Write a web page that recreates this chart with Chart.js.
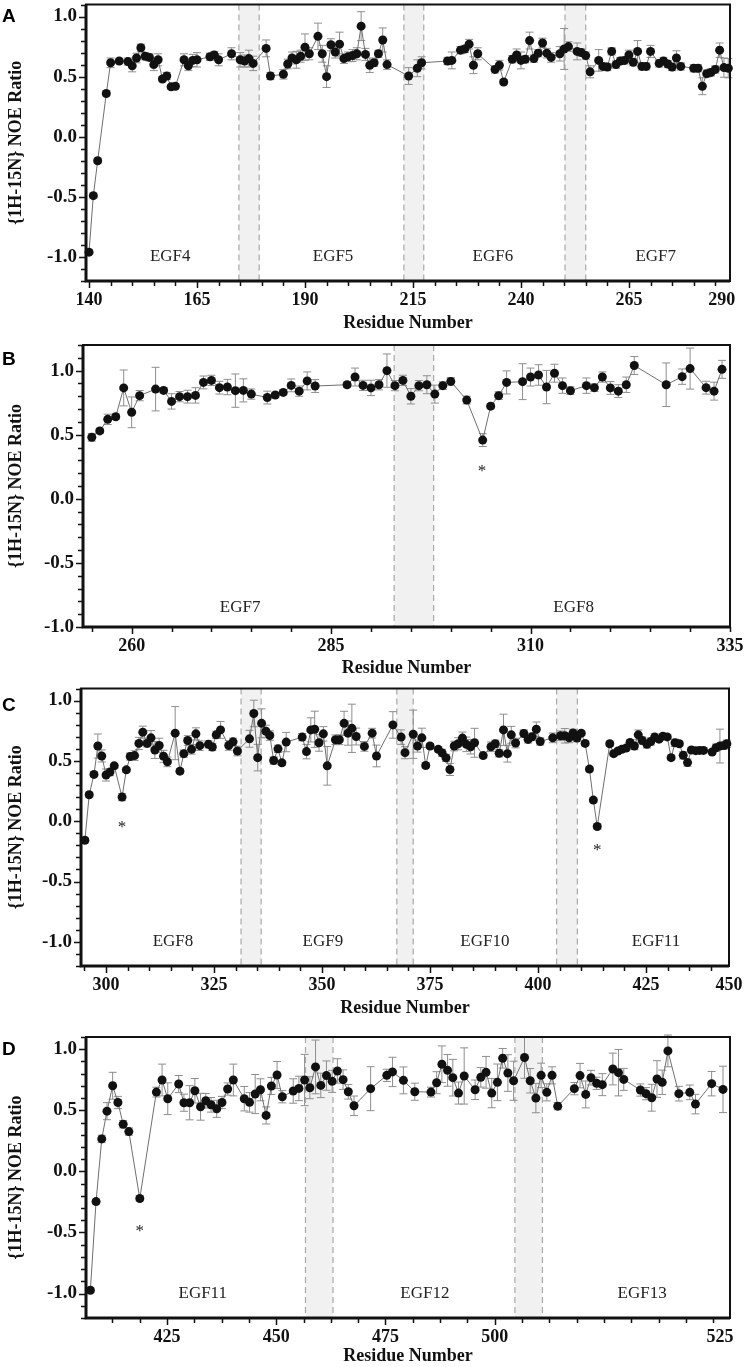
<!DOCTYPE html>
<html>
<head>
<meta charset="utf-8">
<title>{1H-15N} NOE Ratio</title>
<script src="https://cdn.jsdelivr.net/npm/chart.js@4.4.0/dist/chart.umd.min.js"></script>
<style>
  body { margin: 0; background: #fff; }
  #page { position: relative; width: 744px; height: 1367px; }
  canvas { position: absolute; left: 0; }
</style>
</head>
<body>
<div id="page">
  <canvas id="panelA" width="744" height="340" style="top:0px"></canvas>
  <canvas id="panelB" width="744" height="344" style="top:340px"></canvas>
  <canvas id="panelC" width="744" height="340" style="top:684px"></canvas>
  <canvas id="panelD" width="744" height="343" style="top:1024px"></canvas>
</div>
<script>
// ---- panel A: EGF4-EGF7 ----
const residuesA = [
  140,141,142,144,145,147,149,150,151,152,
  153,154,155,156,157,158,159,160,162,163,
  164,165,168,169,170,173,175,176,177,178,
  181,182,185,186,187,188,189,190,191,193,
  194,195,196,197,198,199,200,201,202,203,
  204,205,206,207,208,209,214,216,217,223,
  224,226,227,228,229,230,234,235,236,238,
  239,240,241,242,243,244,245,246,247,249,
  250,251,253,254,255,256,258,259,260,261,
  262,263,264,265,266,267,268,269,270,272,
  273,274,275,276,277,280,281,282,283,284,
  285,286,287,288];
const noeA = [
  -0.96,-0.49,-0.20,0.36,0.615,0.63,0.625,0.59,0.655,0.74,
  0.67,0.66,0.60,0.64,0.48,0.505,0.415,0.42,0.64,0.59,
  0.635,0.64,0.665,0.68,0.64,0.69,0.64,0.63,0.65,0.61,
  0.735,0.505,0.52,0.605,0.655,0.64,0.67,0.745,0.69,0.835,
  0.69,0.50,0.765,0.705,0.77,0.65,0.665,0.675,0.69,0.92,
  0.685,0.595,0.615,0.69,0.805,0.60,0.505,0.57,0.615,0.63,
  0.635,0.72,0.73,0.77,0.595,0.69,0.56,0.595,0.455,0.645,
  0.68,0.635,0.645,0.80,0.65,0.695,0.78,0.695,0.66,0.69,
  0.73,0.75,0.71,0.70,0.675,0.54,0.635,0.585,0.58,0.71,
  0.60,0.63,0.635,0.68,0.62,0.71,0.585,0.585,0.71,0.61,
  0.63,0.605,0.58,0.655,0.585,0.57,0.57,0.42,0.525,0.535,
  0.56,0.72,0.575,0.57];
const errA = [
  0.02,0.02,0.02,0.02,0.04,0.02,0.03,0.05,0.04,0.03,
  0.03,0.03,0.05,0.05,0.02,0.03,0.02,0.02,0.05,0.04,
  0.05,0.06,0.03,0.03,0.05,0.05,0.06,0.05,0.07,0.06,
  0.07,0.03,0.04,0.04,0.05,0.07,0.05,0.11,0.05,0.11,
  0.07,0.09,0.05,0.05,0.10,0.04,0.04,0.05,0.05,0.12,
  0.05,0.06,0.03,0.03,0.10,0.04,0.07,0.07,0.05,0.03,
  0.07,0.03,0.03,0.04,0.07,0.05,0.03,0.04,0.02,0.03,
  0.05,0.07,0.03,0.07,0.03,0.03,0.04,0.04,0.04,0.06,
  0.17,0.04,0.07,0.03,0.03,0.05,0.09,0.03,0.03,0.03,
  0.03,0.03,0.03,0.04,0.03,0.09,0.03,0.03,0.05,0.03,
  0.03,0.03,0.03,0.06,0.03,0.03,0.03,0.07,0.03,0.03,
  0.03,0.06,0.08,0.08];
const xTicksA = [140,165,190,215,240,265,290];
const domainsA = ['EGF4','EGF5','EGF6','EGF7'];

// ---- panel B: EGF7-EGF8 ----
const residuesB = [
  255,256,257,258,259,260,261,
  263,264,265,266,267,268,269,270,271,272,273,274,275,
  277,278,279,280,281,282,283,
  287,288,289,290,291,292,293,294,295,296,297,298,299,300,
  302,304,305,306,307,
  309,310,311,312,313,314,315,
  317,318,319,320,321,322,323,
  327,329,330,332,333,334];
const noeB = [
  0.48,0.53,0.62,0.64,0.865,0.675,0.805,
  0.856,0.846,0.76,0.797,0.797,0.807,0.908,0.924,0.867,0.872,0.844,0.846,0.817,
  0.79,0.81,0.83,0.885,0.84,0.92,0.88,
  0.89,0.95,0.885,0.865,0.89,1.0,0.883,0.924,0.80,0.883,0.89,0.817,0.883,0.916,
  0.77,0.458,0.723,0.805,0.908,
  0.914,0.95,0.966,0.872,0.98,0.883,0.844,
  0.883,0.867,0.95,0.865,0.84,0.89,1.04,
  0.89,0.953,1.016,0.867,0.84,1.01];
const errB = [
  0.03,0.02,0.04,0.02,0.14,0.12,0.04,
  0.17,0.02,0.06,0.04,0.05,0.06,0.05,0.04,0.05,0.06,0.13,0.09,0.04,
  0.05,0.02,0.02,0.05,0.04,0.07,0.05,
  0.02,0.07,0.04,0.06,0.04,0.13,0.04,0.04,0.06,0.04,0.07,0.07,0.03,0.03,
  0.03,0.05,0.02,0.03,0.09,
  0.14,0.07,0.08,0.13,0.07,0.06,0.03,
  0.06,0.03,0.04,0.05,0.05,0.06,0.07,
  0.17,0.06,0.16,0.05,0.07,0.07];
const xTicksB = [260,285,310,335];
const domainsB = ['EGF7','EGF8'];

// ---- panel C: EGF8-EGF11 ----
const residuesC = [
  295.1,296.1,297.2,298.1,299.0,300.0,300.9,301.9,303.7,304.7,
  305.6,306.6,307.6,308.5,309.5,310.4,311.3,312.3,313.3,314.2,
  316.0,317.1,318.0,318.9,319.8,320.8,321.7,323.7,324.6,325.5,
  326.5,328.4,329.4,330.4,333.2,334.2,335.1,336.0,337.0,337.9,
  338.8,339.8,340.7,341.7,345.4,346.4,347.4,348.3,349.3,350.3,
  351.2,353.1,354.0,355.1,356.0,356.9,357.9,359.8,361.6,362.6,
  366.4,368.3,369.2,371.1,372.1,373.1,374.0,375.0,376.9,377.8,
  378.7,379.6,380.6,381.5,382.5,383.4,384.4,385.3,387.3,389.1,
  390.1,391.0,392.0,392.9,393.8,394.8,396.7,397.7,398.6,399.6,
  400.5,403.4,405.2,406.2,407.2,408.1,409.0,410.0,410.9,411.9,
  412.8,413.7,416.6,417.5,418.5,419.4,420.4,421.3,422.3,423.2,
  424.1,425.2,426.1,427.0,428.0,428.9,429.9,430.8,431.7,432.7,
  433.6,434.6,435.5,436.5,437.4,438.3,440.3,441.2,442.1,443.1,
  443.7];
const noeC = [
  -0.158,0.219,0.388,0.623,0.541,0.383,0.407,0.459,0.20,0.426,
  0.536,0.544,0.645,0.738,0.645,0.691,0.59,0.628,0.538,0.492,
  0.73,0.415,0.56,0.669,0.596,0.724,0.626,0.637,0.615,0.716,
  0.757,0.628,0.658,0.582,0.683,0.893,0.527,0.811,0.746,0.71,
  0.503,0.60,0.484,0.656,0.697,0.577,0.757,0.762,0.65,0.724,
  0.459,0.675,0.675,0.811,0.73,0.77,0.702,0.62,0.73,0.541,
  0.798,0.697,0.568,0.721,0.623,0.691,0.462,0.623,0.596,0.566,
  0.525,0.429,0.623,0.642,0.689,0.637,0.617,0.65,0.544,0.617,
  0.642,0.563,0.757,0.56,0.716,0.648,0.727,0.678,0.70,0.762,
  0.661,0.691,0.708,0.708,0.691,0.732,0.689,0.73,0.645,0.432,
  0.175,-0.044,0.642,0.56,0.582,0.596,0.607,0.653,0.623,0.716,
  0.669,0.637,0.661,0.697,0.68,0.705,0.699,0.527,0.65,0.642,
  0.546,0.486,0.59,0.585,0.587,0.587,0.574,0.609,0.623,0.628,
  0.642];
const errC = [
  0.02,0.02,0.02,0.10,0.05,0.05,0.03,0.02,0.03,0.02,
  0.03,0.04,0.05,0.05,0.03,0.06,0.07,0.06,0.05,0.04,
  0.22,0.02,0.03,0.04,0.04,0.05,0.04,0.03,0.03,0.03,
  0.07,0.04,0.03,0.04,0.07,0.11,0.11,0.12,0.05,0.04,
  0.03,0.03,0.02,0.08,0.03,0.06,0.10,0.15,0.07,0.06,
  0.16,0.04,0.04,0.10,0.10,0.20,0.07,0.04,0.04,0.09,
  0.11,0.06,0.05,0.20,0.05,0.08,0.02,0.02,0.02,0.03,
  0.03,0.05,0.04,0.05,0.05,0.06,0.06,0.12,0.02,0.04,
  0.03,0.03,0.13,0.07,0.07,0.04,0.03,0.03,0.03,0.06,
  0.03,0.04,0.04,0.06,0.04,0.03,0.03,0.02,0.02,0.02,
  0.02,0.02,0.02,0.02,0.02,0.02,0.02,0.02,0.03,0.04,
  0.03,0.03,0.03,0.03,0.02,0.02,0.02,0.02,0.03,0.02,
  0.03,0.03,0.02,0.02,0.02,0.02,0.02,0.03,0.14,0.03,
  0.03];
const xTicksC = [300,325,350,375,400,425,450];
const domainsC = ['EGF8','EGF9','EGF10','EGF11'];

// ---- panel D: EGF11-EGF13 ----
const residuesD = [
  407.5,408.8,410.1,411.3,412.6,413.8,415.0,416.3,418.8,422.6,
  423.9,425.2,427.7,428.9,430.2,431.4,432.7,433.9,435.1,436.4,
  437.6,438.9,440.2,442.7,443.9,445.2,446.4,447.7,448.9,450.2,
  451.4,453.9,455.2,456.5,457.7,459.0,460.2,461.5,462.8,464.0,
  465.3,466.5,467.8,471.6,475.3,476.6,479.1,481.7,485.4,486.7,
  487.9,489.2,490.4,491.7,493.0,495.5,496.8,498.0,499.3,500.6,
  501.8,503.0,504.3,506.8,508.1,509.4,510.6,511.9,513.1,514.4,
  518.2,519.5,520.8,522.0,523.3,524.6,527.0,528.3,529.5,533.3,
  534.6,535.9,537.1,538.3,539.6,542.1,544.6,545.9,549.6,552.2];
const noeD = [
  -0.973,-0.247,0.266,0.493,0.701,0.564,0.386,0.326,-0.222,0.649,
  0.748,0.595,0.715,0.562,0.562,0.66,0.529,0.578,0.545,0.512,
  0.564,0.674,0.748,0.595,0.565,0.633,0.668,0.458,0.699,0.789,
  0.611,0.658,0.679,0.748,0.685,0.855,0.704,0.784,0.737,0.822,
  0.751,0.652,0.537,0.677,0.786,0.814,0.745,0.652,0.649,0.726,
  0.877,0.827,0.767,0.641,0.781,0.668,0.77,0.811,0.641,0.729,
  0.926,0.805,0.742,0.932,0.742,0.60,0.786,0.647,0.786,0.534,
  0.677,0.784,0.63,0.767,0.721,0.71,0.838,0.808,0.753,0.666,
  0.636,0.603,0.756,0.729,0.986,0.636,0.647,0.551,0.718,0.671];
const errD = [
  0.02,0.02,0.03,0.07,0.11,0.05,0.03,0.03,0.02,0.04,
  0.13,0.13,0.07,0.07,0.14,0.10,0.11,0.06,0.06,0.07,
  0.05,0.05,0.13,0.10,0.08,0.16,0.09,0.07,0.07,0.11,
  0.05,0.10,0.10,0.21,0.09,0.22,0.10,0.12,0.09,0.10,
  0.08,0.06,0.08,0.18,0.05,0.12,0.11,0.07,0.04,0.09,
  0.15,0.13,0.15,0.09,0.23,0.08,0.08,0.13,0.12,0.15,
  0.08,0.15,0.16,0.17,0.10,0.12,0.10,0.07,0.07,0.03,
  0.05,0.10,0.11,0.06,0.05,0.09,0.13,0.19,0.09,0.05,
  0.05,0.11,0.15,0.10,0.13,0.06,0.06,0.08,0.10,0.19];
const xTicksD = [425,450,475,500,525];
const domainsD = ['EGF11','EGF12','EGF13'];

const yTicks = [-1.0,-0.5,0.0,0.5,1.0];

const serif = '"Liberation Serif", "Times New Roman", serif';

function toPoints(res, val, err) {
  return res.map((r, i) => ({ x: r, y: val[i], e: err[i] }));
}

// draws shaded linker bands, error bars, frame, tick marks and annotations
const panelPlugin = {
  id: 'panel',
  beforeDatasetsDraw(chart, args, o) {
    const { ctx, chartArea: a, scales: { x, y } } = chart;
    ctx.save();
    o.bands.forEach(b => {
      const x0 = x.getPixelForValue(b[0]);
      const x1 = x.getPixelForValue(b[1]);
      ctx.fillStyle = '#f1f1f1';
      ctx.fillRect(x0, a.top, x1 - x0, a.bottom - a.top);
      ctx.strokeStyle = '#a9a9a9';
      ctx.lineWidth = 1.2;
      ctx.setLineDash([6, 4]);
      [x0, x1].forEach(px => {
        ctx.beginPath();
        ctx.moveTo(px, a.top);
        ctx.lineTo(px, a.bottom);
        ctx.stroke();
      });
    });
    ctx.setLineDash([]);
    // error bars go under the line and dots
    ctx.strokeStyle = '#8e8e8e';
    ctx.lineWidth = 1;
    chart.data.datasets[0].data.forEach(p => {
      const px = x.getPixelForValue(p.x);
      const hi = y.getPixelForValue(p.y + p.e);
      const lo = y.getPixelForValue(p.y - p.e);
      ctx.beginPath();
      ctx.moveTo(px, hi); ctx.lineTo(px, lo);
      ctx.moveTo(px - 4, hi); ctx.lineTo(px + 4, hi);
      ctx.moveTo(px - 4, lo); ctx.lineTo(px + 4, lo);
      ctx.stroke();
    });
    ctx.restore();
  },
  afterDraw(chart, args, o) {
    const { ctx, chartArea: a, scales: { x, y } } = chart;
    ctx.save();
    // domain names and asterisks
    ctx.fillStyle = '#222';
    ctx.font = '17px ' + serif;
    ctx.textAlign = 'center';
    ctx.textBaseline = 'middle';
    o.domains.forEach((name, i) => {
      ctx.fillText(name, x.getPixelForValue(o.domainX[i]), y.getPixelForValue(o.domainY));
    });
    ctx.textBaseline = 'alphabetic';
    o.stars.forEach(s => {
      ctx.fillText('*', x.getPixelForValue(s[0]), y.getPixelForValue(s[1]) + 8);
    });

    // tick marks
    ctx.strokeStyle = '#111';
    ctx.lineWidth = 1.5;
    ctx.beginPath();
    for (let k = 0; ; k++) {
      const v = o.minorStart + k * o.minorStep;
      if (v > x.max + 1e-6) break;
      if (v < x.min - 1e-6) continue;
      const major = o.majorX.some(m => Math.abs(m - v) < 1e-6);
      const px = Math.round(x.getPixelForValue(v)) + 0.5;
      ctx.moveTo(px, a.bottom);
      ctx.lineTo(px, a.bottom + (major ? 7 : 5));
    }
    for (let k = Math.ceil(y.min * 10 - 1e-6); k <= Math.floor(y.max * 10 + 1e-6); k++) {
      const major = k % 5 === 0;
      const py = Math.round(y.getPixelForValue(k / 10)) + 0.5;
      ctx.moveTo(a.left, py);
      ctx.lineTo(a.left - (major ? 7 : 5), py);
    }
    ctx.stroke();

    // frame
    ctx.strokeStyle = '#111';
    ctx.lineWidth = 2;
    ctx.strokeRect(a.left, a.top, a.right - a.left, a.bottom - a.top);
    ctx.lineWidth = 3;
    ctx.beginPath();
    ctx.moveTo(a.left, a.top);
    ctx.lineTo(a.left, a.bottom);
    ctx.lineTo(a.right, a.bottom);
    ctx.stroke();

    // panel letter
    ctx.fillStyle = '#000';
    ctx.font = 'bold 19px "Liberation Sans", Arial, sans-serif';
    ctx.textAlign = 'left';
    ctx.fillText(o.letter, 2, o.letterY);
    ctx.restore();
  }
};

function makePanel(id, res, val, err, xLabels, p) {
  const majorX = xLabels.slice(0, -1);
  return new Chart(document.getElementById(id), {
    type: 'scatter',
    data: {
      datasets: [{
        data: toPoints(res, val, err),
        showLine: true,
        borderColor: '#6f6f6f',
        borderWidth: 1,
        pointRadius: 4.5,
        pointHoverRadius: 4.5,
        pointBackgroundColor: '#111',
        pointBorderWidth: 0,
        clip: false
      }]
    },
    options: {
      responsive: false,
      animation: false,
      events: [],
      layout: { padding: { top: p.top, right: p.right, left: 0, bottom: 0 } },
      plugins: {
        legend: { display: false },
        tooltip: { enabled: false },
        panel: {
          letter: p.letter, letterY: p.letterY,
          bands: p.bands,
          domains: p.domains, domainX: p.domainX, domainY: p.domainY,
          stars: p.stars,
          minorStart: p.minorStart, minorStep: p.minorStep,
          majorX: majorX
        }
      },
      scales: {
        x: {
          type: 'linear',
          min: p.xMin,
          max: p.xMax,
          grid: { display: false, drawTicks: false },
          border: { display: false },
          ticks: {
            color: '#111',
            font: { family: serif, size: 18, weight: 'bold' },
            padding: 9,
            autoSkip: false,
            maxRotation: 0,
            minRotation: 0,
            callback: (v, i) => String(xLabels[i])
          },
          afterBuildTicks: s => {
            // the last label sits at the right end of the axis, as in the figure
            s.ticks = xLabels.map((v, i) => ({ value: i === xLabels.length - 1 ? p.lastLabelAt : v }));
          },
          afterFit: s => {
            s.height = p.axisH;
            s.paddingLeft = 0;
            s.paddingRight = 0;
          },
          title: {
            display: true,
            text: 'Residue Number',
            color: '#111',
            font: { family: serif, size: 18, weight: 'bold' },
            padding: { top: 0, bottom: p.titlePad }
          }
        },
        y: {
          type: 'linear',
          min: p.yMin,
          max: p.yMax,
          grid: { display: false, drawTicks: false },
          border: { display: false },
          ticks: {
            color: '#111',
            font: { family: serif, size: 19, weight: 'bold' },
            padding: 9,
            callback: v => v.toFixed(1)
          },
          afterBuildTicks: s => {
            s.ticks = yTicks.map(v => ({ value: v }));
          },
          afterFit: s => {
            s.width = p.left;
            s.paddingTop = 0;
            s.paddingBottom = 0;
          },
          title: {
            display: true,
            text: '{1H-15N} NOE Ratio',
            color: '#111',
            font: { family: serif, size: 18, weight: 'bold' },
            padding: { top: 6, bottom: 0 }
          }
        }
      }
    },
    plugins: [panelPlugin]
  });
}

makePanel('panelA', residuesA, noeA, errA, xTicksA, {
  letter: 'A', letterY: 22, top: 1, right: 14, left: 86, axisH: 59, titlePad: 6,
  xMin: 139.3, xMax: 288.4, lastLabelAt: 286.5,
  yMin: -1.2, yMax: 1.1, minorStart: 140, minorStep: 5,
  bands: [[174.7, 179.4], [212.9, 217.5], [250.2, 255.0]],
  domains: domainsA, domainX: [158.8, 196.5, 233.5, 271.2], domainY: -1.0,
  stars: []
});

makePanel('panelB', residuesB, noeB, errB, xTicksB, {
  letter: 'B', letterY: 25, top: 5, right: 14, left: 83, axisH: 57, titlePad: 5,
  xMin: 253.9, xMax: 335, lastLabelAt: 335,
  yMin: -1.0, yMax: 1.2, minorStart: 255, minorStep: 5,
  bands: [[292.9, 297.85]],
  domains: domainsB, domainX: [273.6, 315.4], domainY: -0.85,
  stars: [[303.9, 0.237]]
});

makePanel('panelC', residuesC, noeC, errC, xTicksC, {
  letter: 'C', letterY: 27, top: 1, right: 15, left: 81, axisH: 58, titlePad: 5,
  xMin: 294.2, xMax: 444.2, lastLabelAt: 444.2,
  yMin: -1.2, yMax: 1.1, minorStart: 295, minorStep: 5,
  bands: [[331.25, 335.9], [367.3, 371.1], [404.3, 409.1]],
  domains: domainsC, domainX: [315.5, 350.2, 387.7, 427.3], domainY: -1.0,
  stars: [[303.7, -0.027], [413.7, -0.215]]
});

makePanel('panelD', residuesD, noeD, errD, xTicksD, {
  letter: 'D', letterY: 31, top: 13, right: 14, left: 86, axisH: 49, titlePad: 0,
  xMin: 406.5, xMax: 553.8, lastLabelAt: 551.5,
  yMin: -1.2, yMax: 1.1, minorStart: 406.25, minorStep: 6.25,
  bands: [[456.7, 463.0], [504.6, 510.9]],
  domains: domainsD, domainX: [433.2, 484, 533.7], domainY: -1.0,
  stars: [[418.8, -0.46]]
});
</script>
</body>
</html>
